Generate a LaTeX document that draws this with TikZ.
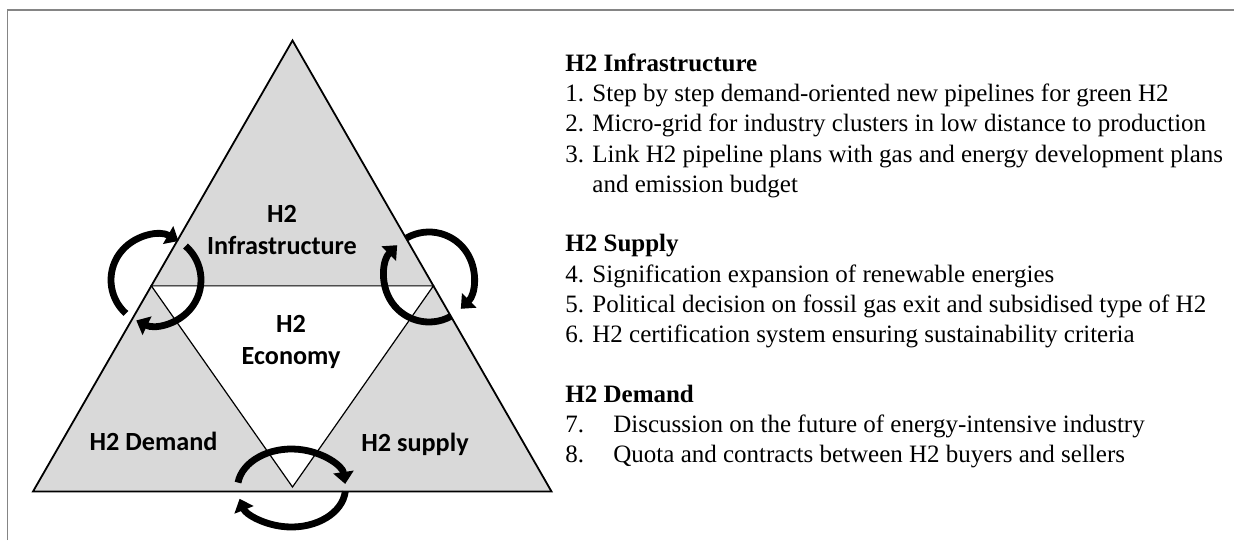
\documentclass[tikz,border=0pt]{standalone}
\usepackage{fontspec}
\usetikzlibrary{arrows.meta,positioning,calc}
\newfontfamily\labelfont{Carlito}
\newfontfamily\listfont{Liberation Serif}
\definecolor{partgray}{HTML}{D9D9D9}
\definecolor{framegray}{HTML}{858585}

\begin{document}
\begin{tikzpicture}[x=0.5pt, y=-0.5pt, >={Triangle[length=6pt, width=10pt]}]
\tikzset{
  part/.style={draw, fill=partgray, line width=0.9pt},
  core/.style={draw, fill=white, line width=0.6pt},
  cyc/.style={line width=3.4pt, ->},
  lbl/.style={inner sep=0pt, align=center, font=\labelfont\bfseries\fontsize{13.1}{15.8}\selectfont},
  head/.style={inner sep=0pt, text height=10.5pt, text depth=4.2pt, font=\listfont\bfseries\fontsize{12.5}{14.7}\selectfont},
  item/.style={inner sep=0pt, text height=10.5pt, text depth=4.2pt, font=\listfont\fontsize{12.5}{14.7}\selectfont}
}
\useasboundingbox (0,0) rectangle (1234,540);
\draw[framegray, line width=0.75pt] (7.5,540) -- (7.5,10) -- (1234,10);

% triangles
\coordinate (apex) at (292.5,40.5);
\coordinate (bl) at (33,491.5);
\coordinate (br) at (551.5,491.5);
\coordinate (ml) at ($(apex)!0.544!(bl)$);
\coordinate (mr) at ($(apex)!0.544!(br)$);
\coordinate (mb) at (292.5,487);
\draw[part] (apex) -- (bl) -- (br) -- cycle;
\draw[core] (ml) -- (mr) -- (mb) -- cycle;

% cycle arrows
\coordinate (cl) at (156,280);
\coordinate (cr) at (429,277);
\coordinate (cb) at (291.5,488);
\draw[cyc] (cl) ++(-228:45) arc[start angle=-228, end angle=-60, radius=45];
\draw[cyc] (cl) ++(-49:45) arc[start angle=-49, end angle=116, radius=45];
\draw[cyc] (cr) ++(-120:45) arc[start angle=-120, end angle=45, radius=45];
\draw[cyc] (cr) ++(61:45) arc[start angle=61, end angle=225, radius=45];
\draw[cyc] (cb) ++(-172:54 and 39) arc[start angle=-172, end angle=-6, x radius=54, y radius=39];
\draw[cyc] (cb) ++(5:54 and 39) arc[start angle=5, end angle=164, x radius=54, y radius=39];

\node[lbl, anchor=base] (infra)  at (282,254)   {H2\\Infrastructure};
\node[lbl, anchor=base] (econ)   at (291,364)   {H2\\Economy};
\node[lbl, anchor=base] (demand) at (153.5,450) {H2 Demand};
\node[lbl, anchor=base] (supply) at (415,451)   {H2 supply};

% measures
\node[head, anchor=base west] (infrahd) at (565,71.5) {H2 Infrastructure};
\node[item, below right=0pt and 0pt of infrahd.south west] (it1) {\makebox[13.5pt][l]{1.}Step by step demand-oriented new pipelines for green H2};
\node[item, below right=0pt and 0pt of it1.south west] (it2) {\makebox[13.5pt][l]{2.}Micro-grid for industry clusters in low distance to production};
\node[item, below right=0pt and 0pt of it2.south west] (it3) {\makebox[13.5pt][l]{3.}Link H2 pipeline plans with gas and energy development plans};
\node[item, below right=0pt and 13.5pt of it3.south west] (it3b) {and emission budget};
\node[head, below right=14.7pt and -13.5pt of it3b.south west] (supplyhd) {H2 Supply};
\node[item, below right=0pt and 0pt of supplyhd.south west] (it4) {\makebox[13.5pt][l]{4.}Signification expansion of renewable energies};
\node[item, below right=0pt and 0pt of it4.south west] (it5) {\makebox[13.5pt][l]{5.}Political decision on fossil gas exit and subsidised type of H2};
\node[item, below right=0pt and 0pt of it5.south west] (it6) {\makebox[13.5pt][l]{6.}H2 certification system ensuring sustainability criteria};
\node[head, below right=14.7pt and 0pt of it6.south west] (demandhd) {H2 Demand};
\node[item, below right=0pt and 0pt of demandhd.south west] (it7) {\makebox[24pt][l]{7.}Discussion on the future of energy-intensive industry};
\node[item, below right=0pt and 0pt of it7.south west] (it8) {\makebox[24pt][l]{8.}Quota and contracts between H2 buyers and sellers};
\end{tikzpicture}
\end{document}
